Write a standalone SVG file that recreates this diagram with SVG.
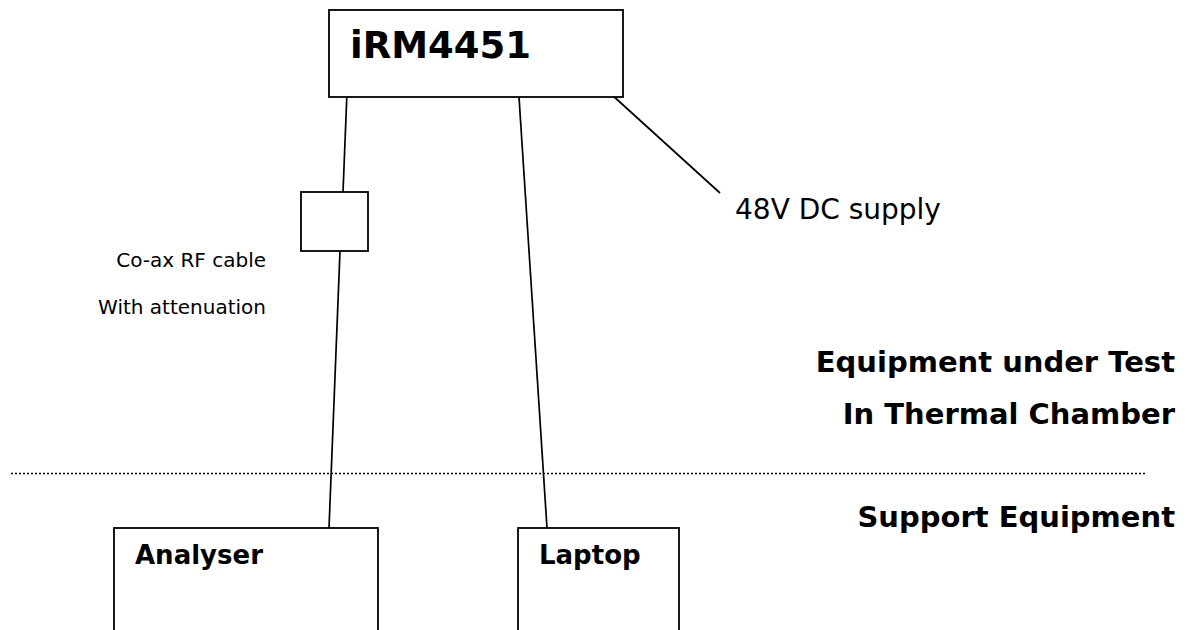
<svg xmlns="http://www.w3.org/2000/svg" width="1191" height="630" viewBox="0 0 1191 630">
<style>
.box{fill:#fff;stroke:#000;stroke-width:1.8}
.ln{stroke:#000;stroke-width:1.7;fill:none}
.t{font-family:"DejaVu Sans",Verdana,sans-serif;fill:#000}
.b{font-weight:bold}
</style>
<rect width="1191" height="630" fill="#fff"/>
<g id="connectors">
<line class="ln" x1="347" y1="92" x2="343" y2="192"/>
<line class="ln" x1="340" y1="251" x2="329" y2="528"/>
<line class="ln" x1="519" y1="97" x2="547" y2="528"/>
<line class="ln" x1="611" y1="94" x2="720" y2="193"/>
</g>
<g id="divider">
<line x1="11" y1="473.5" x2="1145" y2="473.5" stroke="#000" stroke-width="1.6" stroke-dasharray="2 2"/>
</g>
<g id="irm4451">
<rect class="box" x="329" y="10" width="294" height="87"/>
<text class="t b" x="350" y="58" font-size="37">iRM4451</text>
</g>
<g id="attenuator">
<rect class="box" x="301" y="192" width="67" height="59" stroke-width="2"/>
</g>
<g id="coax-label">
<text class="t" x="266" y="267" font-size="20" text-anchor="end">Co-ax RF cable</text>
<text class="t" x="266" y="314" font-size="20" text-anchor="end">With attenuation</text>
</g>
<g id="dc-supply">
<text class="t" x="735" y="219" font-size="28">48V DC supply</text>
</g>
<g id="zone-labels">
<text class="t b" x="1175" y="372" font-size="29" text-anchor="end">Equipment under Test</text>
<text class="t b" x="1175" y="424" font-size="29" text-anchor="end">In Thermal Chamber</text>
<text class="t b" x="1175" y="527" font-size="29" text-anchor="end">Support Equipment</text>
</g>
<g id="analyser">
<rect class="box" x="114" y="528" width="264" height="120"/>
<text class="t b" x="135" y="564" font-size="26">Analyser</text>
</g>
<g id="laptop">
<rect class="box" x="518" y="528" width="161" height="120"/>
<text class="t b" x="539" y="564" font-size="26">Laptop</text>
</g>
</svg>
